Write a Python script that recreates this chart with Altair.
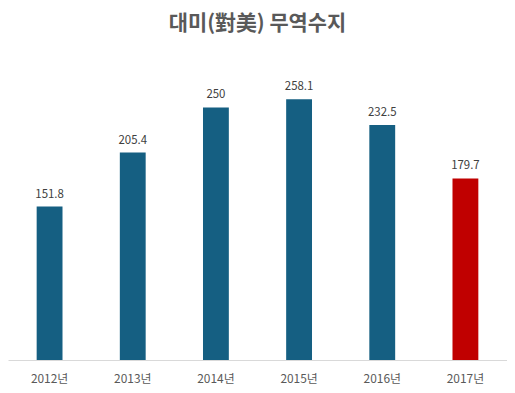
import altair as alt
import pandas as pd

years = ["2012년", "2013년", "2014년", "2015년", "2016년", "2017년"]
values = [151.8, 205.4, 250, 258.1, 232.5, 179.7]
labels = ["151.8", "205.4", "250", "258.1", "232.5", "179.7"]
colors = ["#155F82", "#155F82", "#155F82", "#155F82", "#155F82", "#C00000"]

df = pd.DataFrame({"year": years, "value": values, "label": labels, "color": colors})

FONT = "Noto Sans CJK KR"

base = alt.Chart(df).encode(
    x=alt.X("year:N", sort=years, title=None,
            scale=alt.Scale(paddingInner=0.69, paddingOuter=0.345),
            axis=alt.Axis(labelAngle=0, ticks=False, labelPadding=14,
                          labelFont=FONT, labelFontSize=12, labelColor="#595959",
                          domainColor="#D9D9D9", domainWidth=1, grid=False)),
    y=alt.Y("value:Q", title=None, scale=alt.Scale(domain=[0, 300]), axis=None),
)

bars = base.mark_bar(size=26).encode(color=alt.Color("color:N", scale=None))
text = base.mark_text(baseline="bottom", dy=-7, font=FONT, fontSize=11.5, color="#404040").encode(text="label:N")

chart = alt.layer(bars, text).properties(
    width=502, height=305,
    title=alt.TitleParams("대미(對美) 무역수지", font=FONT, fontSize=21, fontWeight="bold",
                          color="#595959", anchor="middle", offset=23),
    padding={"left": 0, "top": 4, "right": 0, "bottom": 2},
).configure_view(stroke=None)

chart.save("out.html", embed_options={"renderer": "svg", "actions": False})
